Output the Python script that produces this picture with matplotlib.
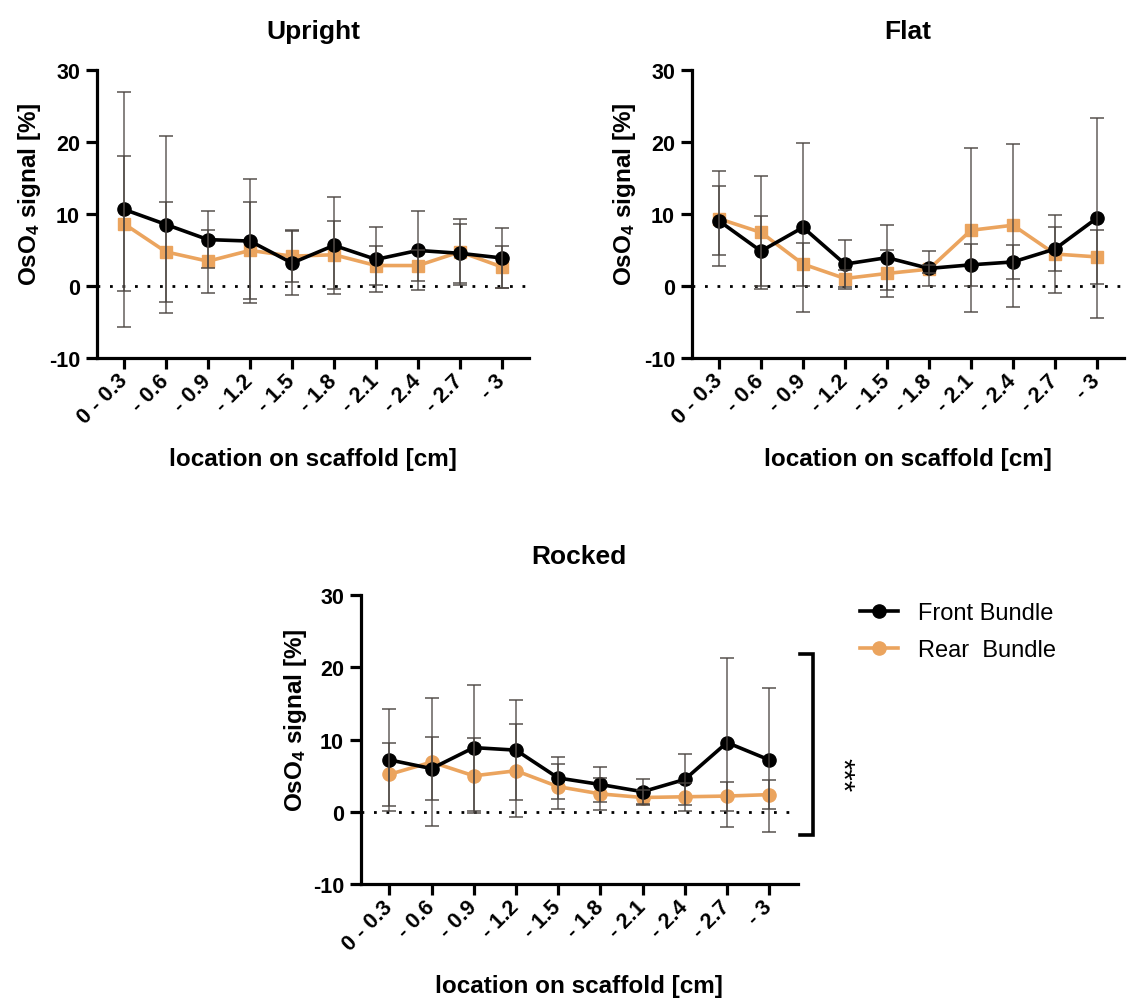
import matplotlib
matplotlib.use('Agg')
import matplotlib.pyplot as plt
from matplotlib.lines import Line2D
import matplotlib.transforms as mtransforms
import numpy as np

plt.rcParams['font.family'] = ['Liberation Sans', 'DejaVu Sans']
plt.rcParams['mathtext.fontset'] = 'custom'
plt.rcParams['mathtext.rm'] = 'Liberation Sans:bold'
plt.rcParams['mathtext.bf'] = 'Liberation Sans:bold'
plt.rcParams['mathtext.it'] = 'Liberation Sans:bold'
plt.rcParams['mathtext.default'] = 'rm'
plt.rcParams['axes.unicode_minus'] = False

# ---------------- data ----------------
categories = ["0 - 0.3", "- 0.6", "- 0.9", "- 1.2", "- 1.5", "- 1.8",
              "- 2.1", "- 2.4", "- 2.7", "- 3"]
yticks = [-10, 0, 10, 20, 30]

upright_front = [10.6, 8.5, 6.4, 6.2, 3.15, 5.6, 3.65, 4.9, 4.5, 3.85]
upright_front_sd = [16.3, 12.3, 4.0, 8.6, 4.4, 6.7, 4.5, 5.5, 4.1, 4.1]
upright_rear = [8.6, 4.7, 3.4, 4.9, 4.1, 4.3, 2.8, 2.8, 4.7, 2.6]
upright_rear_sd = [9.4, 6.9, 4.4, 6.7, 3.6, 4.7, 2.7, 2.1, 4.6, 2.9]

flat_front = [9.0, 4.8, 8.1, 3.0, 3.9, 2.4, 2.9, 3.3, 5.1, 9.4]
flat_front_sd = [4.8, 4.9, 11.7, 3.4, 4.5, 2.4, 2.9, 2.3, 3.1, 13.9]
flat_rear = [9.3, 7.4, 3.0, 1.0, 1.7, 2.3, 7.7, 8.4, 4.4, 4.0]
flat_rear_sd = [6.6, 7.8, 3.0, 1.2, 3.3, 0.6, 11.4, 11.3, 5.4, 3.8]

rocked_front = [7.2, 6.0, 8.9, 8.55, 4.7, 3.8, 2.8, 4.5, 9.6, 7.2]
rocked_front_sd = [7.1, 4.3, 8.7, 6.9, 2.9, 2.45, 1.7, 3.5, 11.7, 9.9]
rocked_rear = [5.2, 6.9, 5.0, 5.7, 3.5, 2.5, 2.0, 2.1, 2.2, 2.4]
rocked_rear_sd = [4.4, 8.8, 5.2, 6.4, 3.1, 2.2, 1.0, 1.9, 2.0, 2.0]

series_labels = ["Front Bundle", "Rear  Bundle"]

ORANGE = '#EBA45E'
ECOL = '#4a4440'

W, H = 1127, 1003
fig = plt.figure(figsize=(W / 100, H / 100), dpi=100)


def px_axes(left, top, right, bottom):
    return fig.add_axes([left / W, 1 - bottom / H, (right - left) / W, (bottom - top) / H])


def panel(ax, title, front, fsd, rear, rsd, rear_marker, xlim, ylab_x):
    x = np.arange(len(categories))
    ax.axhline(0, color='black', lw=2.0, ls=(0, (1, 3.5)), zorder=1)
    ms_rear = 9.5 if rear_marker == 'o' else 8.5
    ax.plot(x, rear, color=ORANGE, lw=2.6, marker=rear_marker, ms=ms_rear, zorder=3)
    ax.plot(x, front, color='black', lw=2.6, marker='o', ms=9.5, zorder=4)
    for vals, sd in ((rear, rsd), (front, fsd)):
        ax.errorbar(x, vals, yerr=sd, fmt='none', ecolor=ECOL, elinewidth=1.1,
                    capsize=5, capthick=1.2, alpha=0.85, zorder=5)
    ax.set_xlim(*xlim)
    ax.set_ylim(-10, 30)
    ax.set_yticks(yticks)
    ax.set_xticks(x)
    ax.set_xticklabels(categories, rotation=45, ha='right', va='center',
                       rotation_mode='anchor')
    for s in ('top', 'right'):
        ax.spines[s].set_visible(False)
    for s in ('left', 'bottom'):
        ax.spines[s].set_linewidth(2.3)
    ax.tick_params(axis='both', length=8, width=2.3, labelsize=15.5, pad=4)
    ax.tick_params(axis='x', pad=6)
    for lab in ax.get_xticklabels() + ax.get_yticklabels():
        lab.set_fontweight('bold')
    ax.set_title(title, fontsize=19, fontweight='bold', pad=23)
    ax.set_xlabel('location on scaffold [cm]', fontsize=17.5, fontweight='bold')
    ax.set_ylabel('OsO$_4$ signal [%]', fontsize=17.5, fontweight='bold')
    ax.xaxis.set_label_coords(0.5, -0.31)
    ax.yaxis.set_label_coords(ylab_x, 0.57)


ax1 = px_axes(96.7, 70.7, 529.3, 358.7)
panel(ax1, 'Upright', upright_front, upright_front_sd, upright_rear, upright_rear_sd, 's',
      (-0.65, 9.65), -0.125)

ax2 = px_axes(691.7, 70.7, 1124.3, 358.7)
panel(ax2, 'Flat', flat_front, flat_front_sd, flat_rear, flat_rear_sd, 's',
      (-0.65, 9.65), -0.125)

ax3 = px_axes(360.7, 596, 797.9, 885.3)
panel(ax3, 'Rocked', rocked_front, rocked_front_sd, rocked_rear, rocked_rear_sd, 'o',
      (-0.68, 9.68), -0.118)

# significance bracket
trans = mtransforms.blended_transform_factory(ax3.transAxes, ax3.transData)
ax3.plot([1.005, 1.035, 1.035, 1.005], [21.85, 21.85, -3.25, -3.25], color='black',
         lw=2.6, transform=trans, clip_on=False, solid_joinstyle='miter')
ax3.text(1.10, 5.3, '***', transform=trans, rotation=-90, ha='center', va='center',
         fontsize=21, fontweight='normal')

# legend
handles = [Line2D([], [], color='black', lw=2.6, marker='o', ms=9.5),
           Line2D([], [], color=ORANGE, lw=2.6, marker='o', ms=9.5)]
fig.legend(handles, series_labels, loc='upper left', bbox_to_anchor=(860 / W, 1 - 603 / H),
           frameon=False, fontsize=17, handlelength=1.6, handletextpad=0.85,
           labelspacing=0.65, borderpad=0, borderaxespad=0)

fig.savefig('out.png', dpi=100)
